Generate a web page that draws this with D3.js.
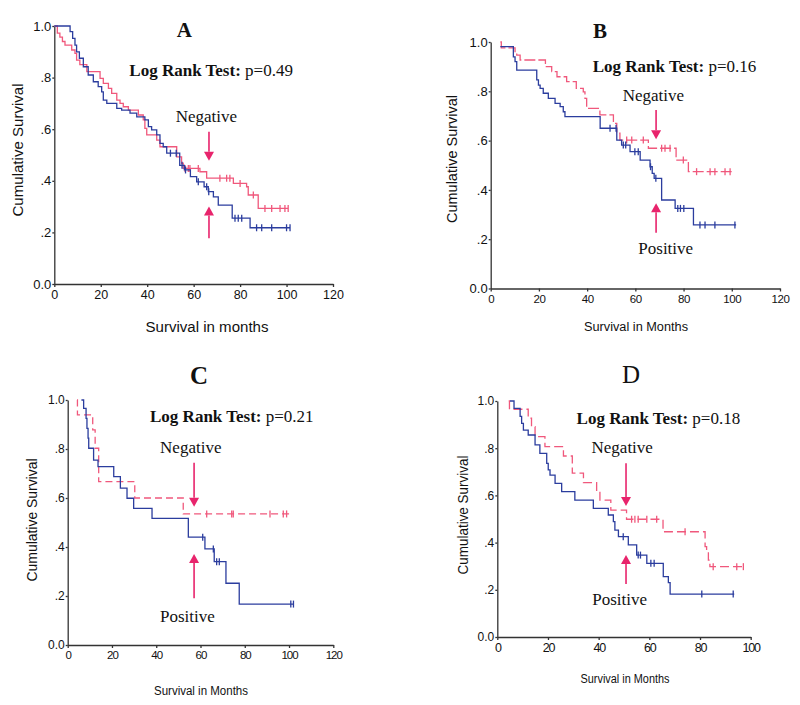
<!DOCTYPE html>
<html><head><meta charset="utf-8">
<script src="https://cdn.jsdelivr.net/npm/d3@7"></script>
<style>body{margin:0;background:#fff} svg{display:block}</style>
</head><body>
<svg id="c" width="800" height="705"></svg>
<script>
// ---------- DATA ----------
const xTicks120 = [0, 20, 40, 60, 80, 100, 120];
const xTicks100 = [0, 20, 40, 60, 80, 100];
const yTicks = [0, 0.2, 0.4, 0.6, 0.8, 1.0];
const yTickLabels = ["0.0", ".2", ".4", ".6", ".8", "1.0"];
const groups = ["Negative", "Positive"];
const panelTitles = ["A", "B", "C", "D"];
const pValues = ["p=0.49", "p=0.16", "p=0.21", "p=0.18"];

// Panel A
const negTimesA = [0, 1.3, 2.4, 3.5, 4.6, 7.5, 8.9, 9.6, 11, 14, 19.7, 21.1, 23.3, 24.7, 26.9, 28.3, 29.7, 31.9, 36.2, 38.3, 39, 39.8, 44.1, 45.5, 52.7, 54.8, 55.5, 62.7, 65.6, 77.1, 82.8, 83.5, 87.8];
const negSurvA  = [1.0, .972, .957, .94, .926, .907, .894, .868, .85, .823, .797, .778, .758, .739, .713, .70, .687, .674, .655, .636, .603, .578, .558, .532, .493, .468, .448, .435, .41, .39, .377, .345, .293];
const negCensA  = [56.3, 57.7, 58.4, 62, 71.3, 74.2, 75.6, 80, 85.7, 90.7, 93.6, 97.2, 99.3, 100.7];
const negEndA = 100.7;
const posTimesA = [0, 6.8, 7.9, 8.9, 9.6, 10.8, 12.5, 14.6, 16.8, 18.9, 20.4, 21.1, 22.6, 26.9, 29, 32.6, 35.5, 39, 40.5, 41.9, 44.1, 45.5, 46.9, 48.4, 54, 56, 58.6, 61.3, 64.5, 66.3, 68.5, 70.6, 76.6, 84.3];
const posSurvA  = [1.0, .978, .952, .926, .90, .875, .842, .81, .784, .765, .745, .713, .70, .681, .674, .662, .648, .636, .61, .597, .578, .545, .532, .507, .46, .442, .416, .396, .377, .358, .338, .306, .255, .218];
const posCensA  = [50, 52.5, 55, 56.5, 62, 65.6, 66.5, 77.8, 79.2, 80.7, 87.1, 89.3, 93.6, 100, 101.5];
const posEndA = 101.5;

// Panel B
const negTimesB = [4, 4.4, 10.1, 10.8, 12.2, 22.7, 25.3, 27.5, 31.5, 35.5, 38.4, 39.1, 39.8, 45.3, 50.9, 52.3, 53.6, 65.4, 76.9, 82];
const negSurvB  = [1.0, .976, .961, .947, .927, .9, .88, .859, .839, .812, .798, .771, .731, .704, .67, .63, .602, .569, .521, .474];
const negCensB  = [56.4, 58.5, 63.3, 70.9, 72.3, 74.4, 79.9, 85.4, 91, 93, 97.2, 99.3];
const negEndB = 100;
const posTimesB = [4, 9.4, 10.1, 10.8, 19.1, 19.8, 20.5, 21.8, 23.9, 26.7, 28.8, 30.1, 30.8, 45.4, 52.3, 54.3, 57.8, 62, 66.1, 67, 67.8, 70.9, 76.5, 84.1];
const posSurvB  = [.981, .94, .92, .886, .846, .825, .812, .792, .771, .751, .738, .717, .697, .65, .602, .582, .555, .521, .494, .467, .447, .359, .325, .258];
const posCensB  = [49.5, 52, 55, 56, 59.8, 61.2, 66.3, 68.5, 77.6, 78.7, 80.1, 86.8, 88.9, 93, 101.3];
const posEndB = 101.8;

// Panel C
const negTimesC = [4.2, 4.4, 11.3, 12.4, 14, 30.3, 52.2];
const negSurvC  = [1.0, .939, .878, .803, .667, .6, .535];
const negCensC  = [62.8, 74.1, 74.8, 91.4, 97.4, 98.9];
const negEndC = 100.4;
const posTimesC = [6.2, 7.2, 8.3, 8.7, 9.2, 9.5, 11.7, 13.7, 20.8, 23.8, 26.8, 29.8, 38.1, 54.5, 62, 66.2, 71.5, 77.5];
const posSurvC  = [1.0, .966, .925, .884, .844, .803, .755, .728, .687, .64, .599, .558, .517, .44, .392, .34, .252, .167];
const posCensC  = [61, 65.8, 67.3, 68.5, 100.8, 102];
const posEndC = 102;

// Panel D
const negTimesD = [4.5, 4.8, 12.2, 13.5, 14.9, 18.8, 26.1, 29.6, 34, 39.2, 40.5, 44.8, 51, 65.4, 82, 82.6, 83.3, 83.9];
const negSurvD  = [1.0, .965, .927, .891, .849, .807, .767, .694, .654, .616, .58, .538, .499, .446, .383, .362, .326, .298];
const negCensD  = [53, 54.3, 55.6, 59, 62.9, 74.1, 85.2, 94.5, 97.1];
const negEndD = 97.1;
const posTimesD = [5, 6.6, 9, 9.6, 10.3, 12.2, 14.9, 16.8, 19.5, 20.1, 20.8, 22.8, 25.4, 30.6, 37.9, 43.8, 45.8, 46.4, 47.8, 51.7, 55, 59, 65.5, 67.5, 68.2];
const posSurvD  = [1.0, .969, .935, .905, .877, .856, .814, .778, .736, .708, .686, .651, .616, .58, .545, .517, .489, .453, .425, .39, .347, .312, .256, .23, .182];
const posCensD  = [49.7, 55.6, 56.5, 60.6, 61.9, 80.7, 93.1];
const posEndD = 93.5;

// ---------- LAYOUT / STYLE ----------
const RED = "#f0587c", BLUE = "#2b3d9e", ARROW = "#e8246c", AXIS = "#333";
const SANS = "'Liberation Sans', Arial, sans-serif";
const SERIF = "'Liberation Serif', 'Times New Roman', serif";

const panels = [
  { title: panelTitles[0], p: pValues[0], xMax: 120, xTicks: xTicks120,
    left: 54.3, right: 333, bottom: 284, top: 26,
    neg: [negTimesA, negSurvA, negCensA, negEndA], pos: [posTimesA, posSurvA, posCensA, posEndA],
    negDash: null, titleFont: 21, titleBold: true, titleAt: [56, 0.957],
    logAt: [32.3, 0.806], arrowT: 66.6, down: [0.59, 0.478], up: [0.30, 0.177],
    negLbl: [65.5, 0.629], posLbl: null,
    yFont: 13, xFont: 12.5, xSpacing: 0,
    ylab: { x: 18, y: 150, len: 133, fs: 15 },
    xlab: { text: "Survival in months", x: 207, y: 332, len: 123, fs: 14 } },
  { title: panelTitles[1], p: pValues[1], xMax: 120, xTicks: xTicks120,
    left: 490.7, right: 780, bottom: 288.5, top: 42,
    neg: [negTimesB, negSurvB, negCensB, negEndB], pos: [posTimesB, posSurvB, posCensB, posEndB],
    negDash: "11,3", titleFont: 21, titleBold: true, titleAt: [45.3, 1.016],
    logAt: [42.3, 0.88], arrowT: 68.6, down: [0.724, 0.605], up: [0.346, 0.226],
    negLbl: [67.5, 0.761], posLbl: [72.6, 0.139],
    yFont: 13, xFont: 11.5, xSpacing: -0.4,
    ylab: { x: 452, y: 159, len: 128, fs: 14.5 },
    xlab: { text: "Survival in Months", x: 636, y: 331, len: 104, fs: 12.5 } },
  { title: panelTitles[2], p: pValues[2], xMax: 120, xTicks: xTicks120,
    left: 67.7, right: 333.3, bottom: 645, top: 400,
    neg: [negTimesC, negSurvC, negCensC, negEndC], pos: [posTimesC, posSurvC, posCensC, posEndC],
    negDash: "7,4", titleFont: 25, titleBold: true, titleAt: [59.3, 1.065],
    logAt: [37.2, 0.911], arrowT: 57.1, down: [0.744, 0.564], up: [0.371, 0.191],
    negLbl: [55.6, 0.782], posLbl: [54.1, 0.095],
    yFont: 12, xFont: 11.5, xSpacing: -1,
    ylab: { x: 32, y: 520, len: 123, fs: 14.5 },
    xlab: { text: "Survival in Months", x: 201, y: 695, len: 94, fs: 12.5 } },
  { title: panelTitles[3], p: pValues[3], xMax: 100, xTicks: xTicks100,
    left: 497.3, right: 750.7, bottom: 637, top: 401,
    neg: [negTimesD, negSurvD, negCensD, negEndD], pos: [posTimesD, posSurvD, posCensD, posEndD],
    negDash: "9,4", titleFont: 25, titleBold: false, titleAt: [52.8, 1.076],
    logAt: [31.3, 0.901], arrowT: 50.8, down: [0.736, 0.555], up: [0.347, 0.225],
    negLbl: [49.3, 0.778], posLbl: [48.3, 0.136],
    yFont: 12, xFont: 12.5, xSpacing: -1.2,
    ylab: { x: 463, y: 515, len: 119, fs: 14 },
    xlab: { text: "Survival in Months", x: 625, y: 683, len: 89, fs: 12.5 } }
];

const svg = d3.select("#c");

function stepPoints(times, surv, end) {
  const pts = times.map((t, i) => [t, surv[i]]);
  pts.push([end, surv[surv.length - 1]]);
  return pts;
}
function survAt(times, surv, t) {
  let v = surv[0];
  for (let i = 0; i < times.length; i++) if (times[i] <= t) v = surv[i];
  return v;
}

function drawArrow(g, x, yFrom, yTip, color) {
  const dir = yTip > yFrom ? 1 : -1;
  const head = 9, hw = 5;
  g.append("line").attr("x1", x).attr("x2", x).attr("y1", yFrom).attr("y2", yTip - dir * head)
    .attr("stroke", color).attr("stroke-width", 1.6);
  g.append("path")
    .attr("d", `M${x - hw},${yTip - dir * head}L${x + hw},${yTip - dir * head}L${x},${yTip}Z`)
    .attr("fill", color);
}

panels.forEach(p => {
  const x = d3.scaleLinear().domain([0, p.xMax]).range([p.left, p.right]);
  const y = d3.scaleLinear().domain([0, 1]).range([p.bottom, p.top]);
  const g = svg.append("g");

  // axes
  const xa = d3.axisBottom(x).tickValues(p.xTicks).tickSize(3).tickSizeOuter(0).tickPadding(3).tickFormat(d3.format("d"));
  const gx = g.append("g").attr("transform", `translate(0,${p.bottom})`).call(xa);
  const ya = d3.axisLeft(y).tickValues(yTicks).tickSize(2).tickSizeOuter(0).tickPadding(1)
    .tickFormat(d => yTickLabels[yTicks.indexOf(d)]);
  const gy = g.append("g").attr("transform", `translate(${p.left},0)`).call(ya);
  [gx, gy].forEach(a => {
    a.select(".domain").attr("stroke", AXIS).attr("stroke-width", 1.3);
    a.selectAll(".tick line").attr("stroke", AXIS).attr("stroke-width", 1.3);
    a.selectAll("text").attr("fill", "#111").attr("font-family", SANS);
  });
  gx.selectAll("text").attr("font-size", p.xFont).attr("letter-spacing", p.xSpacing);
  gy.selectAll("text").attr("font-size", p.yFont);

  // curves
  const line = d3.line().x(d => x(d[0])).y(d => y(d[1])).curve(d3.curveStepAfter);
  [[p.neg, RED, p.negDash], [p.pos, BLUE, null]].forEach(([c, col, dash]) => {
    const [times, surv, cens, end] = c;
    g.append("path").datum(stepPoints(times, surv, end))
      .attr("d", line).attr("fill", "none").attr("stroke", col).attr("stroke-width", 1.3)
      .attr("stroke-dasharray", dash);
    g.selectAll(null).data(cens).enter().append("line")
      .attr("x1", d => x(d)).attr("x2", d => x(d))
      .attr("y1", d => y(survAt(times, surv, d)) - 3.5)
      .attr("y2", d => y(survAt(times, surv, d)) + 3.5)
      .attr("stroke", col).attr("stroke-width", 1.3);
  });

  // title
  g.append("text").attr("x", x(p.titleAt[0])).attr("y", y(p.titleAt[1]))
    .attr("text-anchor", "middle").attr("font-family", SERIF).attr("font-size", p.titleFont)
    .attr("font-weight", p.titleBold ? "bold" : "normal").attr("fill", "#111").text(p.title);

  // log rank
  const lt = g.append("text").attr("x", x(p.logAt[0])).attr("y", y(p.logAt[1]))
    .attr("font-family", SERIF).attr("font-size", 17).attr("fill", "#111");
  lt.append("tspan").attr("font-weight", "bold").text("Log Rank Test:");
  lt.append("tspan").text(" " + p.p);

  // labels & arrows
  g.append("text").attr("x", x(p.negLbl[0])).attr("y", y(p.negLbl[1])).attr("text-anchor", "middle")
    .attr("font-family", SERIF).attr("font-size", 17).attr("fill", "#111").text(groups[0]);
  if (p.posLbl) g.append("text").attr("x", x(p.posLbl[0])).attr("y", y(p.posLbl[1])).attr("text-anchor", "middle")
    .attr("font-family", SERIF).attr("font-size", 17).attr("fill", "#111").text(groups[1]);
  drawArrow(g, x(p.arrowT), y(p.down[0]), y(p.down[1]), ARROW);
  drawArrow(g, x(p.arrowT), y(p.up[1]), y(p.up[0]), ARROW);

  // axis titles
  g.append("text").attr("transform", `translate(${p.ylab.x},${p.ylab.y}) rotate(-90)`)
    .attr("text-anchor", "middle").attr("dy", "0.35em").attr("font-family", SANS).attr("font-size", p.ylab.fs)
    .attr("textLength", p.ylab.len).attr("lengthAdjust", "spacingAndGlyphs").attr("fill", "#111").text("Cumulative Survival");
  g.append("text").attr("x", p.xlab.x).attr("y", p.xlab.y).attr("text-anchor", "middle")
    .attr("font-family", SANS).attr("font-size", p.xlab.fs)
    .attr("textLength", p.xlab.len).attr("lengthAdjust", "spacingAndGlyphs").attr("fill", "#111").text(p.xlab.text);
});
</script>
</body></html>
